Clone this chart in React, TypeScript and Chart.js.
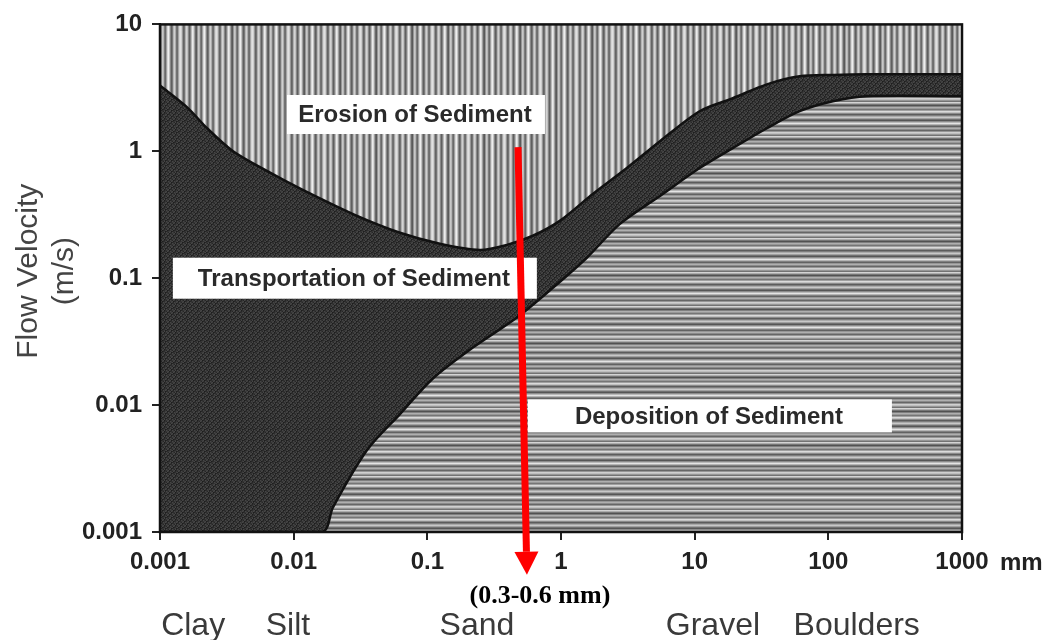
import React, { useEffect, useRef } from 'react';
import { Chart, registerables } from 'chart.js';

Chart.register(...registerables);

// ---------- data ----------
const xTicks = [0.001, 0.01, 0.1, 1, 10, 100, 1000];
const yTicks = [0.001, 0.01, 0.1, 1, 10];

// erosion threshold (upper curve), grain size mm -> velocity m/s
const erosionX = [0.001, 0.00159, 0.00225, 0.00352, 0.0063, 0.0111, 0.0278, 0.0624, 0.124, 0.247, 0.394, 0.616, 0.98, 1.73, 3.11, 5.5, 10.9, 19.3, 34.7, 61, 108, 194, 1000];
const erosionY = [3.3, 2.23, 1.52, 1.0, 0.7, 0.51, 0.32, 0.228, 0.187, 0.167, 0.183, 0.216, 0.283, 0.461, 0.738, 1.2, 2.07, 2.62, 3.37, 3.9, 4.0, 4.05, 4.05];

// deposition threshold (lower curve)
const depositionX = [0.001, 0.0163, 0.0197, 0.0353, 0.0624, 0.11, 0.219, 0.468, 0.869, 1.56, 2.76, 5.5, 10.9, 19.3, 34.7, 61, 108, 194, 1000];
const depositionY = [0.001, 0.001, 0.00157, 0.0044, 0.0085, 0.0162, 0.0284, 0.049, 0.084, 0.145, 0.268, 0.445, 0.738, 1.06, 1.52, 2.07, 2.48, 2.72, 2.72];

// region labels
const regionLabels = ['Erosion of Sediment', 'Transportation of Sediment', 'Deposition of Sediment'];
const regionX = [0.0822, 0.0287, 13.0];
const regionY = [1.95, 0.1, 0.00822];

// grain size classes under the axis
const sizeClasses = ['Clay', 'Silt', 'Sand', 'Gravel', 'Boulders'];
const sizeClassX = [0.00177, 0.00906, 0.235, 13.7, 163];

// highlighted range arrow
const arrowLabel = '(0.3-0.6 mm)';
const arrowTopX = 0.477;
const arrowTopY = 1.08;
const arrowTipX = 0.556;
const arrowTipY = 0.00046;

const yTitle = ['Flow Velocity', '(m/s)'];
const xUnit = 'mm';

// ---------- styles ----------
const FONT = "'Liberation Sans', Arial, Helvetica, sans-serif";
const SERIF = "'Liberation Serif', 'Times New Roman', serif";
const boxSizes = [
  [258, 39],
  [364, 41],
  [364, 33],
];

const vCols = [225, 205, 150, 100, 115, 175, 212, 192, 135, 95, 130, 185, 235, 215, 160, 105, 90, 150, 200, 182, 125, 105, 160, 215, 238, 195, 135, 95, 120, 180, 208, 172, 115, 110, 165, 212];
const hRows = [212, 172, 118, 82, 128, 175, 152, 118, 160, 218, 192, 138, 92, 125, 170, 200, 160, 112, 86, 140, 185, 228, 180, 128, 98, 150, 175, 138, 102, 150, 208, 190, 150, 115];

function g(v: number) {
  return `rgb(${v},${v},${v})`;
}

function makeVPattern(): CanvasPattern | string {
  const c = document.createElement('canvas');
  c.width = vCols.length;
  c.height = 2;
  const x = c.getContext('2d')!;
  vCols.forEach((v, i) => {
    x.fillStyle = g(v);
    x.fillRect(i, 0, 1, 2);
  });
  return x.createPattern(c, 'repeat') || '#b0b0b0';
}

function makeHPattern(): CanvasPattern | string {
  const c = document.createElement('canvas');
  c.width = 2;
  c.height = hRows.length;
  const x = c.getContext('2d')!;
  hRows.forEach((v, i) => {
    x.fillStyle = g(v);
    x.fillRect(0, i, 2, 1);
  });
  return x.createPattern(c, 'repeat') || '#a0a0a0';
}

function makeDarkPattern(): CanvasPattern | string {
  const n = 11;
  const c = document.createElement('canvas');
  c.width = n;
  c.height = n;
  const x = c.getContext('2d')!;
  for (let i = 0; i < n; i++) {
    for (let j = 0; j < n; j++) {
      const k = (i * 7 + j * 13 + i * j * 3) % 6;
      x.fillStyle = g(30 + k * 8);
      x.fillRect(i, j, 1, 1);
    }
  }
  return x.createPattern(c, 'repeat') || '#2e2e2e';
}

export default function App() {
  const ref = useRef<HTMLCanvasElement | null>(null);

  useEffect(() => {
    if (!ref.current) return;
    const vPat = makeVPattern();
    const hPat = makeHPattern();
    const dPat = makeDarkPattern();

    const decor = {
      id: 'decor',
      beforeDraw(chart: any) {
        const { ctx, chartArea } = chart;
        ctx.save();
        ctx.fillStyle = dPat;
        ctx.fillRect(chartArea.left, chartArea.top, chartArea.right - chartArea.left, chartArea.bottom - chartArea.top);
        ctx.restore();
      },
      afterDatasetsDraw(chart: any) {
        const { ctx, chartArea } = chart;
        const xs = chart.scales.x;
        const ys = chart.scales.y;
        ctx.save();
        // frame
        ctx.strokeStyle = '#111';
        ctx.lineWidth = 2.5;
        ctx.strokeRect(chartArea.left, chartArea.top, chartArea.right - chartArea.left, chartArea.bottom - chartArea.top);

        // region label boxes
        ctx.font = `bold 24px ${FONT}`;
        ctx.textAlign = 'center';
        ctx.textBaseline = 'middle';
        regionLabels.forEach((t, i) => {
          const cx = xs.getPixelForValue(regionX[i]);
          const cy = ys.getPixelForValue(regionY[i]);
          const [w, h] = boxSizes[i];
          ctx.fillStyle = '#ffffff';
          ctx.fillRect(cx - w / 2, cy - h / 2, w, h);
          ctx.fillStyle = '#2a2a2a';
          ctx.fillText(t, cx - 1, cy + 1);
        });

        // red arrow
        const x0 = xs.getPixelForValue(arrowTopX);
        const y0 = ys.getPixelForValue(arrowTopY);
        const x1 = xs.getPixelForValue(arrowTipX);
        const y1 = ys.getPixelForValue(arrowTipY);
        const headLen = 23;
        const headHalf = 12;
        const ang = Math.atan2(y1 - y0, x1 - x0);
        const bx = x1 - headLen * Math.cos(ang);
        const by = y1 - headLen * Math.sin(ang);
        ctx.strokeStyle = '#ff0000';
        ctx.fillStyle = '#ff0000';
        ctx.lineWidth = 7;
        ctx.lineCap = 'butt';
        ctx.beginPath();
        ctx.moveTo(x0, y0);
        ctx.lineTo(bx, by);
        ctx.stroke();
        ctx.beginPath();
        ctx.moveTo(x1, y1);
        ctx.lineTo(bx + headHalf * Math.sin(ang), by - headHalf * Math.cos(ang));
        ctx.lineTo(bx - headHalf * Math.sin(ang), by + headHalf * Math.cos(ang));
        ctx.closePath();
        ctx.fill();

        // arrow label
        ctx.fillStyle = '#000';
        ctx.font = `bold 26px ${SERIF}`;
        ctx.textAlign = 'center';
        ctx.textBaseline = 'middle';
        ctx.fillText(arrowLabel, x1 + 13, y1 + 21);

        // unit label
        ctx.fillStyle = '#222';
        ctx.font = `bold 24px ${FONT}`;
        ctx.textAlign = 'left';
        ctx.fillText(xUnit, chartArea.right + 38, chartArea.bottom + 31);

        // size classes
        ctx.fillStyle = '#3a3a3a';
        ctx.font = `32px ${FONT}`;
        ctx.textAlign = 'center';
        ctx.textBaseline = 'alphabetic';
        sizeClasses.forEach((t, i) => {
          ctx.fillText(t, xs.getPixelForValue(sizeClassX[i]), chartArea.bottom + 103);
        });

        // y title
        ctx.fillStyle = '#444';
        ctx.font = `30px ${FONT}`;
        ctx.textAlign = 'center';
        ctx.textBaseline = 'middle';
        const midY = (chartArea.top + chartArea.bottom) / 2 - 7;
        [29, 65].forEach((px, i) => {
          ctx.save();
          ctx.translate(px, midY);
          ctx.rotate(-Math.PI / 2);
          ctx.fillText(yTitle[i], 0, 0);
          ctx.restore();
        });
        ctx.restore();
      },
    };

    const tickFont = { family: FONT, size: 24, weight: 'bold' as const };

    const chart = new Chart(ref.current, {
      type: 'scatter',
      data: {
        datasets: [
          {
            label: 'Erosion threshold',
            data: erosionX.map((x, i) => ({ x, y: erosionY[i] })),
            showLine: true,
            fill: 'end',
            backgroundColor: vPat as any,
            borderColor: '#111',
            borderWidth: 2.5,
            pointRadius: 0,
            tension: 0.3,
          },
          {
            label: 'Deposition threshold',
            data: depositionX.map((x, i) => ({ x, y: depositionY[i] })),
            showLine: true,
            fill: 'start',
            backgroundColor: hPat as any,
            borderColor: '#111',
            borderWidth: 2.5,
            pointRadius: 0,
            tension: 0.3,
          },
        ],
      },
      options: {
        animation: false,
        responsive: false,
        layout: { padding: { top: 23, right: 98, left: 0, bottom: 0 } },
        plugins: { legend: { display: false }, tooltip: { enabled: false } },
        scales: {
          x: {
            type: 'logarithmic',
            min: 0.001,
            max: 1000,
            afterBuildTicks: (s: any) => {
              s.ticks = xTicks.map((v) => ({ value: v }));
            },
            afterFit: (s: any) => {
              s.height = 108;
            },
            ticks: {
              autoSkip: false,
              maxRotation: 0,
              font: tickFont,
              color: '#222',
              padding: 8,
              callback: (v: any) => String(v),
            },
            grid: { drawOnChartArea: false, drawTicks: true, tickLength: 8, color: '#222', lineWidth: 2 },
            border: { display: true, color: '#111', width: 2 },
          },
          y: {
            type: 'logarithmic',
            min: 0.001,
            max: 10,
            afterBuildTicks: (s: any) => {
              s.ticks = yTicks.map((v) => ({ value: v }));
            },
            afterFit: (s: any) => {
              s.width = 160;
            },
            ticks: {
              autoSkip: false,
              font: tickFont,
              color: '#222',
              padding: 10,
              callback: (v: any) => String(v),
            },
            grid: { drawOnChartArea: false, drawTicks: true, tickLength: 8, color: '#222', lineWidth: 2 },
            border: { display: true, color: '#111', width: 2 },
          },
        },
      },
      plugins: [decor],
    });
    return () => chart.destroy();
  }, []);

  return (
    <div style={{ position: 'fixed', left: 0, top: 0, width: 1060, height: 640, background: '#fff' }}>
      <canvas ref={ref} width={1060} height={640} style={{ width: 1060, height: 640, display: 'block' }} />
    </div>
  );
}
